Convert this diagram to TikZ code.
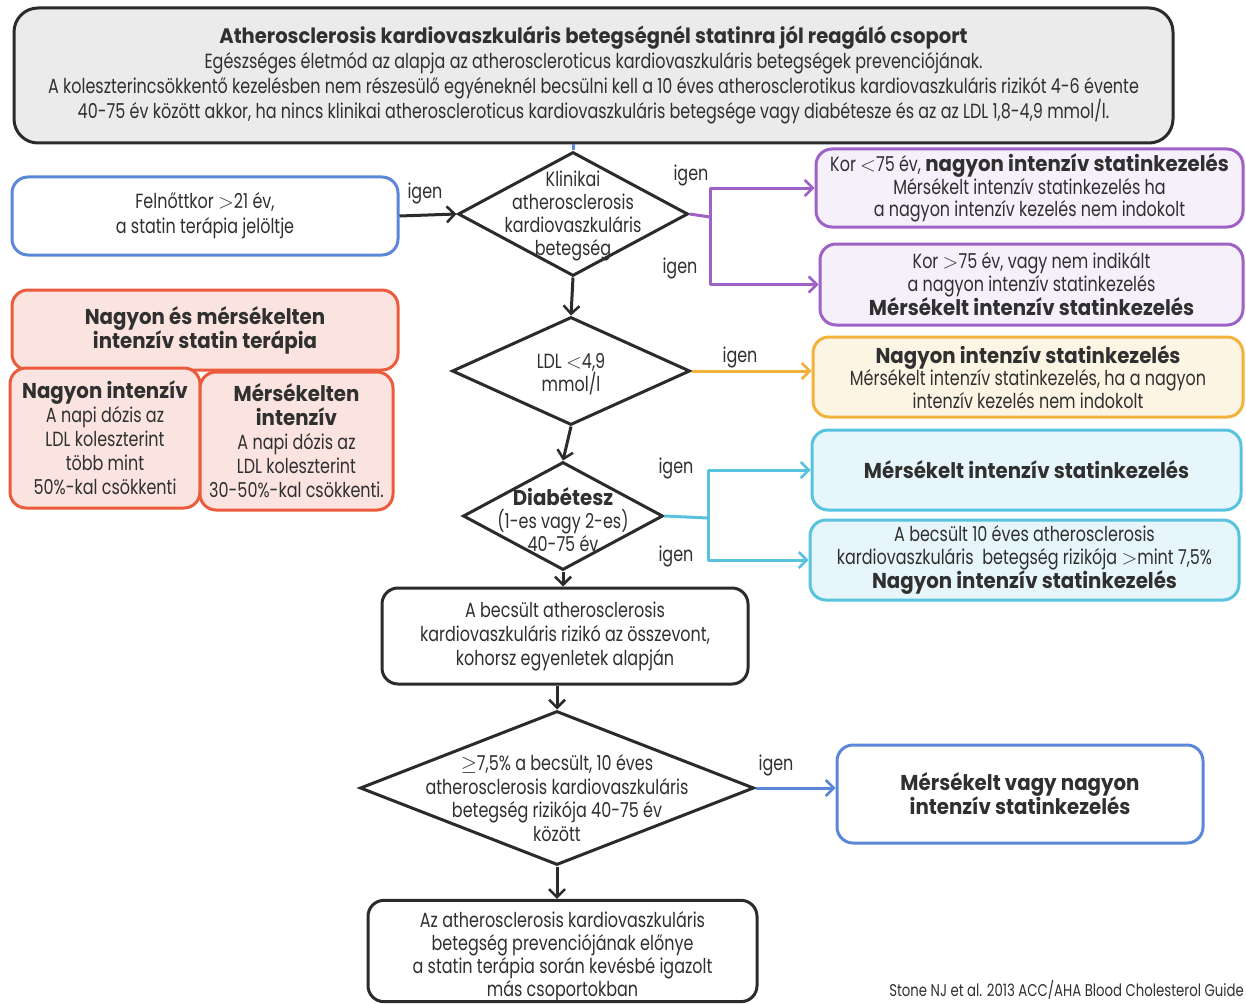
\documentclass[tikz,border=0pt]{standalone}
\usepackage{fontspec}
\setmainfont{Poppins}[FakeStretch=0.78]
\newfontfamily\bdf{Poppins}[FakeStretch=0.92]
\newfontfamily\bdc{Poppins}[FakeStretch=0.93]
\usetikzlibrary{shapes.geometric,arrows.meta}
\definecolor{dk}{HTML}{2B2B2B}
\definecolor{txt}{HTML}{303030}
\definecolor{topfill}{HTML}{EBEBEB}
\definecolor{purp}{HTML}{9E62C6}
\definecolor{purpfill}{HTML}{F5F0FA}
\definecolor{orng}{HTML}{F3B23C}
\definecolor{orngfill}{HTML}{FDF5E4}
\definecolor{cyn}{HTML}{58C3DE}
\definecolor{cynfill}{HTML}{E7F6FA}
\definecolor{blu}{HTML}{5B87D8}
\definecolor{rd}{HTML}{EC5B3D}
\definecolor{rdfill}{HTML}{FBE4DF}
\newcommand{\bt}[1]{{\bdf\bfseries\fontsize{21.5}{23}\selectfont #1}}
\newcommand{\lt}{$<$}
\newcommand{\gt}{$>$}
\begin{document}
\begin{tikzpicture}[x=1pt,y=-1pt,
  box/.style={draw, rounded corners=16pt, line width=3pt, align=center, inner sep=0pt, text=txt, font=\fontsize{20.5}{23}\selectfont},
  dia/.style={draw=dk, shape=diamond, line width=3pt, inner sep=0pt, fill=white},
  lab/.style={align=center, text=txt, inner sep=0pt, font=\fontsize{20.5}{23}\selectfont},
  arr/.style={line width=3pt, line join=round, -{Straight Barb[length=8pt,width=16pt,line width=2.5pt]}},
  ln/.style={line width=3pt, line join=round}]
\useasboundingbox (0,0) rectangle (1246,1003);
\fill[white] (0,0) rectangle (1246,1003);

% top box
\node[box, draw=dk, fill=topfill, minimum width=1159pt, minimum height=135pt, rounded corners=24pt, font=\fontsize{20.5}{25}\selectfont] (top) at (593.5,75.5)
 {{\bdc\bfseries\fontsize{21}{25}\selectfont Atherosclerosis kardiovaszkuláris betegségnél statinra jól reagáló csoport}\\
  Egészséges életmód az alapja az atheroscleroticus kardiovaszkuláris betegségek prevenciójának.\\
  A koleszterincsökkentő kezelésben nem részesülő egyéneknél becsülni kell a 10 éves atherosclerotikus kardiovaszkuláris rizikót 4-6 évente\\
  40-75 év között akkor, ha nincs klinikai atheroscleroticus kardiovaszkuláris betegsége vagy diabétesze és az az LDL 1,8-4,9 mmol/l.};

% left boxes
\node[box, draw=blu, fill=white, minimum width=386pt, minimum height=78pt, font=\fontsize{20.5}{25}\selectfont] (f) at (205,216)
 {Felnőttkor \gt21 év,\\a statin terápia jelöltje};
\node[box, draw=rd, fill=rdfill, minimum width=386pt, minimum height=80pt, font=\fontsize{21.5}{24}\selectfont] (r0) at (205,330)
 {\bt{Nagyon és mérsékelten}\\\bt{intenzív statin terápia}};
\node[box, draw=rd, fill=rdfill, minimum width=190pt, minimum height=140pt, font=\fontsize{20.5}{24}\selectfont] (r1) at (105,438)
 {\bt{Nagyon intenzív}\\A napi dózis az\\LDL koleszterint\\több mint\\50\%-kal csökkenti};
\node[box, draw=rd, fill=rdfill, minimum width=193pt, minimum height=138pt, font=\fontsize{20.5}{24}\selectfont] (r2) at (296.5,441)
 {\bt{Mérsékelten}\\\bt{intenzív}\\A napi dózis az\\LDL koleszterint\\30-50\%-kal csökkenti.};

% diamonds
\node[dia, minimum width=230pt, minimum height=124pt] (d1) at (573,214) {};
\node[lab] (d1t) at (573,216) {Klinikai\\atherosclerosis\\kardiovaszkuláris\\betegség};
\node[dia, minimum width=238pt, minimum height=108pt] (d2) at (571,371) {};
\node[lab] (d2t) at (571,374) {LDL \lt4,9\\mmol/l};
\node[dia, minimum width=200pt, minimum height=108pt] (d3) at (563,516) {};
\node[lab] (d3t) at (563,520) {\bt{Diabétesz}\\(1-es vagy 2-es)\\40-75 év};
\node[box, draw=dk, fill=white, minimum width=366pt, minimum height=96pt, font=\fontsize{20.5}{24}\selectfont] (b1) at (565,636)
 {A becsült atherosclerosis\\kardiovaszkuláris rizikó az összevont,\\kohorsz egyenletek alapján};
\node[dia, minimum width=394pt, minimum height=154pt] (d4) at (557,788) {};
\node[lab, font=\fontsize{20.5}{23.5}\selectfont] (d4t) at (557,798) {$\geq$7,5\% a becsült, 10 éves\\atherosclerosis kardiovaszkuláris\\betegség rizikója 40-75 év\\között};
\node[box, draw=dk, fill=white, minimum width=389pt, minimum height=98pt, font=\fontsize{20.5}{23}\selectfont] (b2) at (562.5,951)
 {\rule{0pt}{27pt}Az atherosclerosis kardiovaszkuláris\\betegség prevenciójának előnye\\a statin terápia során kevésbé igazolt\\más csoportokban};

% right boxes
\node[box, draw=purp, fill=purpfill, minimum width=427pt, minimum height=78pt, font=\fontsize{20.5}{22.5}\selectfont] (p1) at (1029.5,188)
 {Kor \lt75 év, \bt{nagyon intenzív statinkezelés}\\Mérsékelt intenzív statinkezelés ha\\a nagyon intenzív kezelés nem indokolt};
\node[box, draw=purp, fill=purpfill, minimum width=423pt, minimum height=81pt, font=\fontsize{20.5}{22.5}\selectfont] (p2) at (1031.5,284.5)
 {Kor \gt75 év, vagy nem indikált\\a nagyon intenzív statinkezelés\\\bt{Mérsékelt intenzív statinkezelés}};
\node[box, draw=orng, fill=orngfill, minimum width=430pt, minimum height=80pt, font=\fontsize{20.5}{22.5}\selectfont] (o) at (1028,377)
 {\bt{Nagyon intenzív statinkezelés}\\Mérsékelt intenzív statinkezelés, ha a nagyon\\intenzív kezelés nem indokolt};
\node[box, draw=cyn, fill=cynfill, minimum width=429pt, minimum height=80pt] (c1) at (1026.5,470)
 {\bt{Mérsékelt intenzív statinkezelés}};
\node[box, draw=cyn, fill=cynfill, minimum width=429pt, minimum height=80pt, font=\fontsize{20.5}{23}\selectfont] (c2) at (1024.5,560)
 {A becsült 10 éves atherosclerosis\\kardiovaszkuláris\ \ betegség rizikója \gt{}mint 7,5\%\\\bt{Nagyon intenzív statinkezelés}};
\node[box, draw=blu, fill=white, minimum width=366pt, minimum height=98pt, font=\fontsize{21.5}{24}\selectfont] (fb) at (1020,794)
 {\bt{Mérsékelt vagy nagyon}\\\bt{intenzív statinkezelés}};

% citation
\node[anchor=base east, text=txt, inner sep=0pt, font=\fontsize{17}{20}\selectfont] (cite) at (1244,996) {Stone NJ et al. 2013 ACC/AHA Blood Cholesterol Guide};

% connectors
\draw[ln, blu] (d1.north |- top.south) -- (d1.north);
\draw[arr, dk] (f.east) -- (d1.west);
\draw[arr, dk] (d1.south) -- (d2.north);
\draw[arr, dk] (d2.south) -- (d3.north);
\draw[arr, dk] (d3.south) -- (b1.north -| d3.south);
\draw[arr, dk] (b1.south -| d4.north) -- (d4.north);
\draw[arr, dk] (d4.south) -- (b2.north -| d4.south);

\coordinate (pj) at (710,217);
\draw[ln, purp] (d1.east) -- (pj);
\draw[arr, purp] (pj) |- (p1.west);
\draw[arr, purp] (pj) |- (p2.west);
\draw[arr, orng] (d2.east) -- (d2.east -| o.west);
\coordinate (cj) at (708,518);
\draw[ln, cyn] (d3.east) -- (cj);
\draw[arr, cyn] (cj) |- (c1.west);
\draw[arr, cyn] (cj) |- (c2.west);
\draw[arr, blu] (d4.east) -- (d4.east -| fb.west);

% labels
\node[lab] (ig1) at (425,193) {igen};
\node[lab] (ig2) at (691,175) {igen};
\node[lab] (ig3) at (680,268) {igen};
\node[lab] (ig4) at (740,357) {igen};
\node[lab] (ig5) at (676,468) {igen};
\node[lab] (ig6) at (676,556) {igen};
\node[lab] (ig7) at (776,765) {igen};
\end{tikzpicture}
\end{document}
